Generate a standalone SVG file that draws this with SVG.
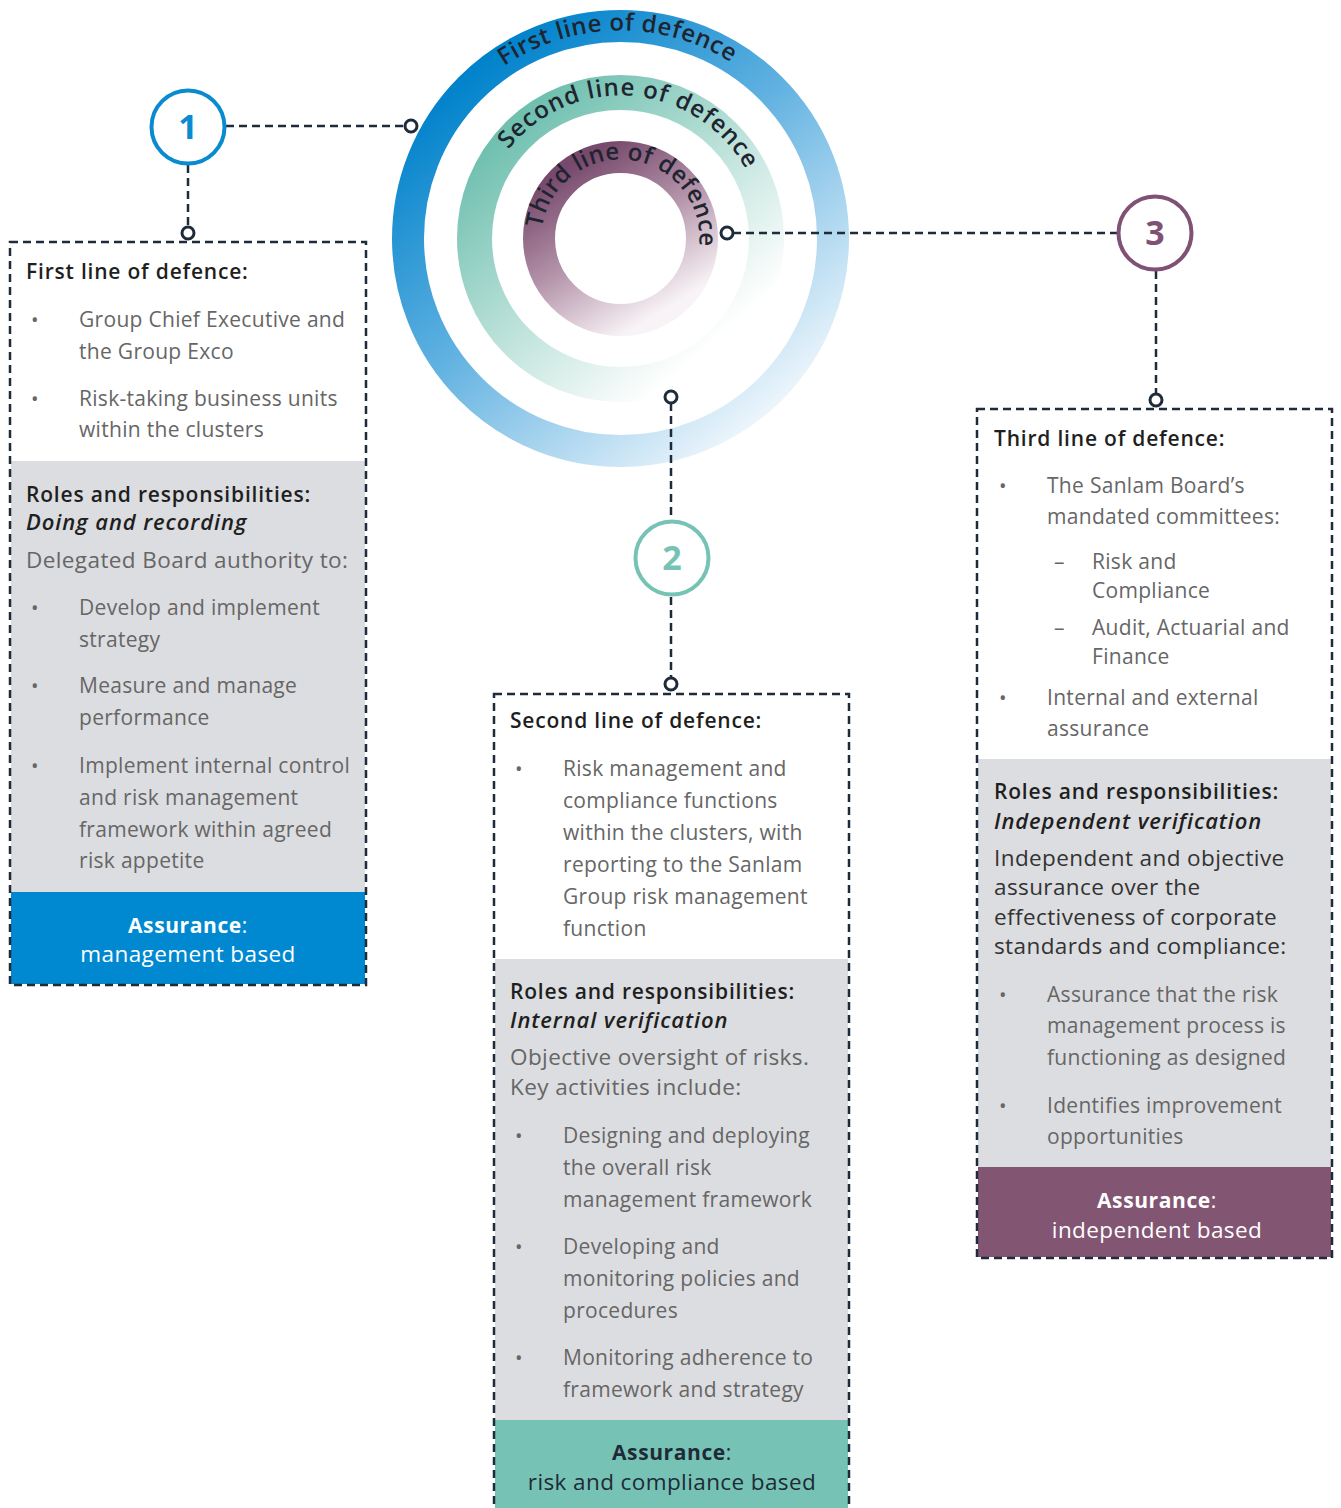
<svg xmlns="http://www.w3.org/2000/svg" width="1341" height="1508" viewBox="0 0 1341 1508">
<style>
text{font-family:"Open Sans","Noto Sans","Liberation Sans",sans-serif}
.ring{font-size:24px;font-weight:600;fill:#1f2530}
.h{font-size:21px;font-weight:600;fill:#1f1f1f;letter-spacing:0.8px}
.hi{font-size:22px;font-weight:600;font-style:italic;fill:#1f1f1f;letter-spacing:0.9px}
.b{font-size:21px;fill:#666666;letter-spacing:0.3px}
.p{font-size:22.5px;fill:#666666;letter-spacing:0.4px}
.pd{font-size:22.5px;fill:#333333;letter-spacing:0.4px}
.bul{font-size:20px;fill:#666666}
.num{font-size:34px;font-weight:700;text-anchor:middle}
.box{fill:none;stroke:#1e2b3a;stroke-width:2.5;stroke-dasharray:8 5}
.con{fill:none;stroke:#1e2b3a;stroke-width:2.5;stroke-dasharray:8 5}
.dot{fill:#ffffff;stroke:#1e2b3a;stroke-width:3}
.as{font-size:21px;font-weight:700;text-anchor:middle;letter-spacing:0.6px}
.av{font-size:22.5px;text-anchor:middle;letter-spacing:0.4px}
</style>
<defs>
<linearGradient id="g1" x1="0.15" y1="0.1" x2="0.85" y2="0.95">
<stop offset="0" stop-color="#0082cb"/>
<stop offset="0.45" stop-color="#62b2e1"/>
<stop offset="1" stop-color="#f4f9fd"/>
</linearGradient>
<linearGradient id="g2" x1="0.15" y1="0.1" x2="0.85" y2="0.9">
<stop offset="0" stop-color="#70c0b0"/>
<stop offset="0.5" stop-color="#bde2da"/>
<stop offset="0.95" stop-color="#ffffff"/>
</linearGradient>
<linearGradient id="g3" x1="0.2" y1="0.05" x2="0.75" y2="0.95">
<stop offset="0" stop-color="#77496c"/>
<stop offset="0.5" stop-color="#b595ab"/>
<stop offset="1" stop-color="#f8f3f6"/>
</linearGradient>
<path id="arc1" d="M620.5,446.5 A208,208 0 1 1 620.5,30.5 A208,208 0 1 1 620.5,446.5"/>
<path id="arc2" d="M620.5,381.5 A143,143 0 1 1 620.5,95.5 A143,143 0 1 1 620.5,381.5"/>
<path id="arc3" d="M620.5,317.5 A79,79 0 1 1 620.5,159.5 A79,79 0 1 1 620.5,317.5"/>
</defs>

<g id="rings">
<circle cx="620.5" cy="238.5" r="212.5" fill="none" stroke="url(#g1)" stroke-width="32"/>
<circle cx="620.5" cy="238.5" r="146" fill="none" stroke="url(#g2)" stroke-width="35"/>
<circle cx="620.5" cy="238.5" r="81.5" fill="none" stroke="url(#g3)" stroke-width="32"/>
<text class="ring" transform="rotate(-1 620.5 238.5)"><textPath href="#arc1" startOffset="50%" text-anchor="middle" textLength="240" lengthAdjust="spacing">First line of defence</textPath></text>
<text class="ring" transform="rotate(4.7 620.5 238.5)"><textPath href="#arc2" startOffset="50%" text-anchor="middle" textLength="281" lengthAdjust="spacing">Second line of defence</textPath></text>
<text class="ring" transform="rotate(6.5 620.5 238.5)"><textPath href="#arc3" startOffset="50%" text-anchor="middle" textLength="245" lengthAdjust="spacing">Third line of defence</textPath></text>
</g>

<g id="connectors">
<line class="con" x1="226" y1="126" x2="405" y2="126"/>
<line class="con" x1="188" y1="165" x2="188" y2="227"/>
<line class="con" x1="671" y1="403" x2="671" y2="520"/>
<line class="con" x1="671" y1="597" x2="671" y2="678"/>
<line class="con" x1="733" y1="233" x2="1117" y2="233"/>
<line class="con" x1="1156" y1="271" x2="1156" y2="394"/>
<circle class="dot" cx="411" cy="126" r="6"/>
<circle class="dot" cx="188" cy="233" r="6"/>
<circle class="dot" cx="671" cy="397" r="6"/>
<circle class="dot" cx="671" cy="684" r="6"/>
<circle class="dot" cx="727" cy="233" r="6"/>
<circle class="dot" cx="1156" cy="400" r="6"/>
</g>

<g id="marker1">
<circle cx="188" cy="127" r="36.5" fill="#ffffff" stroke="#0a8bd0" stroke-width="4"/>
<text class="num" x="188" y="139" fill="#0a8bd0">1</text>
</g>
<g id="marker2">
<circle cx="672" cy="558" r="36.5" fill="#ffffff" stroke="#76c3b5" stroke-width="4"/>
<text class="num" x="672" y="570" fill="#76c3b5">2</text>
</g>
<g id="marker3">
<circle cx="1155" cy="233" r="36.5" fill="#ffffff" stroke="#7f5275" stroke-width="4"/>
<text class="num" x="1155" y="245" fill="#7f5275">3</text>
</g>

<g id="box1">
<rect x="11" y="461" width="354" height="431" fill="#dcdde0"/>
<rect x="11" y="892" width="354" height="92" fill="#0089d0"/>
<rect class="box" x="10" y="242" width="356" height="743"/>
<text class="h" x="26" y="279">First line of defence:</text>
<text class="bul" x="31" y="327">•</text>
<text class="b" x="79" y="327">Group Chief Executive and</text>
<text class="b" x="79" y="359">the Group Exco</text>
<text class="bul" x="31" y="406">•</text>
<text class="b" x="79" y="406">Risk-taking business units</text>
<text class="b" x="79" y="437">within the clusters</text>
<text class="h" x="26" y="502">Roles and responsibilities:</text>
<text class="hi" x="26" y="530">Doing and recording</text>
<text class="p" x="26" y="568">Delegated Board authority to:</text>
<text class="bul" x="31" y="615">•</text>
<text class="b" x="79" y="615">Develop and implement</text>
<text class="b" x="79" y="647">strategy</text>
<text class="bul" x="31" y="693">•</text>
<text class="b" x="79" y="693">Measure and manage</text>
<text class="b" x="79" y="725">performance</text>
<text class="bul" x="31" y="773">•</text>
<text class="b" x="79" y="773">Implement internal control</text>
<text class="b" x="79" y="805">and risk management</text>
<text class="b" x="79" y="837">framework within agreed</text>
<text class="b" x="79" y="868">risk appetite</text>
<text class="as" x="188" y="933" fill="#ffffff">Assurance<tspan font-weight="400">:</tspan></text>
<text class="av" x="188" y="962" fill="#ffffff">management based</text>
</g>

<g id="box2">
<rect x="495" y="959" width="353" height="461" fill="#dcdde0"/>
<rect x="495" y="1420" width="353" height="90" fill="#76c3b6"/>
<rect class="box" x="494" y="694" width="355" height="830"/>
<text class="h" x="510" y="728">Second line of defence:</text>
<text class="bul" x="515" y="776">•</text>
<text class="b" x="563" y="776">Risk management and</text>
<text class="b" x="563" y="808">compliance functions</text>
<text class="b" x="563" y="840">within the clusters, with</text>
<text class="b" x="563" y="872">reporting to the Sanlam</text>
<text class="b" x="563" y="904">Group risk management</text>
<text class="b" x="563" y="936">function</text>
<text class="h" x="510" y="999">Roles and responsibilities:</text>
<text class="hi" x="510" y="1028">Internal verification</text>
<text class="p" x="510" y="1065">Objective oversight of risks.</text>
<text class="p" x="510" y="1095">Key activities include:</text>
<text class="bul" x="515" y="1143">•</text>
<text class="b" x="563" y="1143">Designing and deploying</text>
<text class="b" x="563" y="1175">the overall risk</text>
<text class="b" x="563" y="1207">management framework</text>
<text class="bul" x="515" y="1254">•</text>
<text class="b" x="563" y="1254">Developing and</text>
<text class="b" x="563" y="1286">monitoring policies and</text>
<text class="b" x="563" y="1318">procedures</text>
<text class="bul" x="515" y="1365">•</text>
<text class="b" x="563" y="1365">Monitoring adherence to</text>
<text class="b" x="563" y="1397">framework and strategy</text>
<text class="as" x="672" y="1460" fill="#1f2a36">Assurance<tspan font-weight="400">:</tspan></text>
<text class="av" x="672" y="1490" fill="#1f2a36">risk and compliance based</text>
</g>

<g id="box3">
<rect x="978" y="759" width="353" height="408" fill="#dcdde0"/>
<rect x="978" y="1167" width="353" height="90" fill="#825573"/>
<rect class="box" x="977" y="409" width="355" height="849"/>
<text class="h" x="994" y="446">Third line of defence:</text>
<text class="bul" x="999" y="493">•</text>
<text class="b" x="1047" y="493">The Sanlam Board’s</text>
<text class="b" x="1047" y="524">mandated committees:</text>
<text class="b" x="1054" y="569">–</text>
<text class="b" x="1092" y="569">Risk and</text>
<text class="b" x="1092" y="598">Compliance</text>
<text class="b" x="1054" y="635">–</text>
<text class="b" x="1092" y="635">Audit, Actuarial and</text>
<text class="b" x="1092" y="664">Finance</text>
<text class="bul" x="999" y="705">•</text>
<text class="b" x="1047" y="705">Internal and external</text>
<text class="b" x="1047" y="736">assurance</text>
<text class="h" x="994" y="799">Roles and responsibilities:</text>
<text class="hi" x="994" y="829">Independent verification</text>
<text class="pd" x="994" y="866">Independent and objective</text>
<text class="pd" x="994" y="895">assurance over the</text>
<text class="pd" x="994" y="925">effectiveness of corporate</text>
<text class="pd" x="994" y="954">standards and compliance:</text>
<text class="bul" x="999" y="1002">•</text>
<text class="b" x="1047" y="1002">Assurance that the risk</text>
<text class="b" x="1047" y="1033">management process is</text>
<text class="b" x="1047" y="1065">functioning as designed</text>
<text class="bul" x="999" y="1113">•</text>
<text class="b" x="1047" y="1113">Identifies improvement</text>
<text class="b" x="1047" y="1144">opportunities</text>
<text class="as" x="1157" y="1208" fill="#ffffff">Assurance<tspan font-weight="400">:</tspan></text>
<text class="av" x="1157" y="1238" fill="#ffffff">independent based</text>
</g>
</svg>
